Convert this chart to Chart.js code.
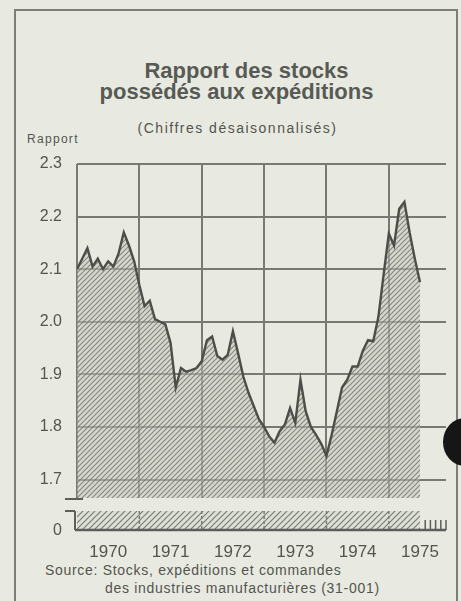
<!DOCTYPE html>
<html>
<head>
<meta charset="utf-8">
<script src="https://cdn.jsdelivr.net/npm/chart.js@4.4.0/dist/chart.umd.min.js"></script>
<style>
  body { margin:0; background:#e8eae1; font-family:'Liberation Sans', Arial, sans-serif; color:#53554f; }
  #wrap { position:relative; width:461px; height:601px; overflow:hidden; }
  #frame { position:absolute; left:14px; top:9px; width:440px; height:600px; border:2px solid #7c7e78; border-bottom:none; }
  #chart-box { position:absolute; left:0; top:0; width:461px; height:601px; }
  .t { position:absolute; white-space:nowrap; line-height:1; }
  .title { font-weight:bold; font-size:22px; left:0; width:493px; text-align:center; color:#585a55; }
  #blob { position:absolute; left:443px; top:418px; width:44px; height:48px; border-radius:50%; background:#161616; }
</style>
</head>
<body>
<div id="wrap">
  <div id="frame"></div>
  <div class="t title" style="top:60px">Rapport des stocks</div>
  <div class="t title" style="top:81px;width:473px">possédés aux expéditions</div>
  <div class="t" style="top:121px;left:0;width:475px;text-align:center;font-size:14px;letter-spacing:1.5px">(Chiffres désaisonnalisés)</div>
  <div class="t" style="top:133px;left:27px;font-size:12px;letter-spacing:1.3px">Rapport</div>
  <div class="t" style="top:563px;left:45px;font-size:14px;letter-spacing:0.7px">Source: Stocks, expéditions et commandes</div>
  <div class="t" style="top:581px;left:105px;font-size:14px;letter-spacing:0.7px">des industries manufacturières (31-001)</div>
  <div id="chart-box"><canvas id="ratio-chart"></canvas></div>
  <div id="blob"></div>
</div>

<script>
// ─── Data ─────────────────────────────────────────────────────
// monthly, seasonally adjusted, Jan 1970 → Jul 1975
const years  = ['1970', '1971', '1972', '1973', '1974', '1975'];
const yTicks = [1.7, 1.8, 1.9, 2.0, 2.1, 2.2, 2.3];
const ratio  = [
  2.10, 2.12, 2.14, 2.105, 2.12, 2.10, 2.115, 2.105, 2.13, 2.17, 2.145, 2.115,   // 1970
  2.07, 2.03, 2.04, 2.005, 2.00, 1.995, 1.96, 1.875, 1.912, 1.905, 1.908, 1.912,  // 1971
  1.925, 1.965, 1.972, 1.935, 1.928, 1.937, 1.982, 1.94, 1.896, 1.865, 1.84, 1.815, // 1972
  1.80, 1.782, 1.77, 1.792, 1.805, 1.836, 1.808, 1.89, 1.83, 1.80, 1.785, 1.768,  // 1973
  1.745, 1.785, 1.83, 1.875, 1.89, 1.915, 1.915, 1.945, 1.965, 1.963, 2.01, 2.09, // 1974
  2.168, 2.145, 2.215, 2.228, 2.17, 2.12, 2.075,                                  // 1975
];

const INK   = '#53554f';
const GRID  = '#777973';
const FONT  = "'Liberation Sans', Arial, sans-serif";

// ── Hatch pattern for the area ────────────────────────────────

function hatch(bg, fg, size) {
  const c = document.createElement('canvas');
  c.width = c.height = size;
  const g = c.getContext('2d');
  g.fillStyle = bg;
  g.fillRect(0, 0, size, size);
  g.strokeStyle = fg;
  g.lineWidth = 1.2;
  g.beginPath();
  g.moveTo(0, size);  g.lineTo(size, 0);
  g.moveTo(-1, 1);    g.lineTo(1, -1);
  g.moveTo(size - 1, size + 1); g.lineTo(size + 1, size - 1);
  g.stroke();
  return g.createPattern(c, 'repeat');
}

const areaHatch  = hatch('rgba(198,200,190,0.55)', 'rgba(108,110,103,0.75)', 5);
const stripHatch = hatch('rgba(214,216,206,0.6)',  'rgba(105,107,100,0.85)', 6);

// ── Broken axis: strip at zero under the plot ─────────────────

const brokenAxis = {
  id: 'brokenAxis',
  afterDraw(chart) {
    const { ctx, chartArea: a, scales: { x } } = chart;
    const top  = a.bottom + 13;
    const base = a.bottom + 32;
    const xEnd = x.getPixelForValue(ratio.length - 1);
    const line = (x1, y1, x2, y2) => { ctx.beginPath(); ctx.moveTo(x1, y1); ctx.lineTo(x2, y2); ctx.stroke(); };

    ctx.save();
    ctx.fillStyle = stripHatch;
    ctx.fillRect(a.left, top, xEnd - a.left, base - top);

    ctx.strokeStyle = GRID;
    ctx.lineWidth = 1.5;
    ctx.setLineDash([3, 2]);
    for (let m = 12; m <= 60; m += 12) {
      const px = x.getPixelForValue(m);
      line(px, top, px, base);
    }
    ctx.setLineDash([]);

    ctx.strokeStyle = '#5c5e59';
    ctx.lineWidth = 1.5;
    for (let m = ratio.length; m <= x.max; m++) {
      const px = x.getPixelForValue(m);
      line(px, base - 10, px, base);
    }

    ctx.lineWidth = 2.5;
    line(a.left - 2, base, a.right, base);
    ctx.lineWidth = 2;
    line(a.left - 12, a.bottom + 1, a.left + 6, a.bottom + 1);
    line(a.left - 12, top, a.left - 2, top);
    line(a.left - 2, top, a.left - 2, base);

    ctx.fillStyle = INK;
    ctx.font = '16px ' + FONT;
    ctx.textAlign = 'right';
    ctx.textBaseline = 'middle';
    ctx.fillText('0', a.left - 15, base + 1);
    ctx.restore();
  },
};

// ── Chart ─────────────────────────────────────────────────────

new Chart(document.getElementById('ratio-chart'), {
  type: 'line',
  data: {
    datasets: [{
      data: ratio.map((v, i) => ({ x: i, y: v })),
      borderColor: '#4c4e49',
      borderWidth: 2.4,
      backgroundColor: areaHatch,
      fill: 'start',
      tension: 0,
      pointRadius: 0,
    }],
  },
  options: {
    responsive: true,
    maintainAspectRatio: false,
    animation: false,
    layout: { padding: { top: 164, right: 15, left: 0, bottom: 0 } },
    plugins: { legend: { display: false }, tooltip: { enabled: false } },
    scales: {
      x: {
        type: 'linear',
        min: 0,
        max: 71,
        afterBuildTicks: s => { s.ticks = years.flatMap((_, k) => [{ value: k * 12 }, { value: k * 12 + 6 }]); },
        afterFit: s => { s.height = 103; },
        border: { display: false },
        grid: {
          drawTicks: true,
          tickLength: 42,
          tickColor: 'transparent',
          lineWidth: 2,
          color: c => (c.tick && c.tick.value % 12 === 0 ? GRID : 'transparent'),
        },
        ticks: {
          autoSkip: false,
          maxRotation: 0,
          padding: 2,
          color: INK,
          font: { family: FONT, size: 17 },
          callback: v => (v % 12 === 6 ? years[(v - 6) / 12] : ''),
        },
      },
      y: {
        min: 1.665,
        max: 2.3,
        afterBuildTicks: s => { s.ticks = yTicks.map(v => ({ value: v })); },
        afterFit: s => { s.width = 77; },
        border: { display: false },
        grid: { drawTicks: false, lineWidth: 2, color: GRID },
        ticks: {
          padding: 15,
          color: INK,
          font: { family: FONT, size: 16 },
          callback: v => v.toFixed(1),
        },
      },
    },
  },
  plugins: [brokenAxis],
});
</script>
</body>
</html>
